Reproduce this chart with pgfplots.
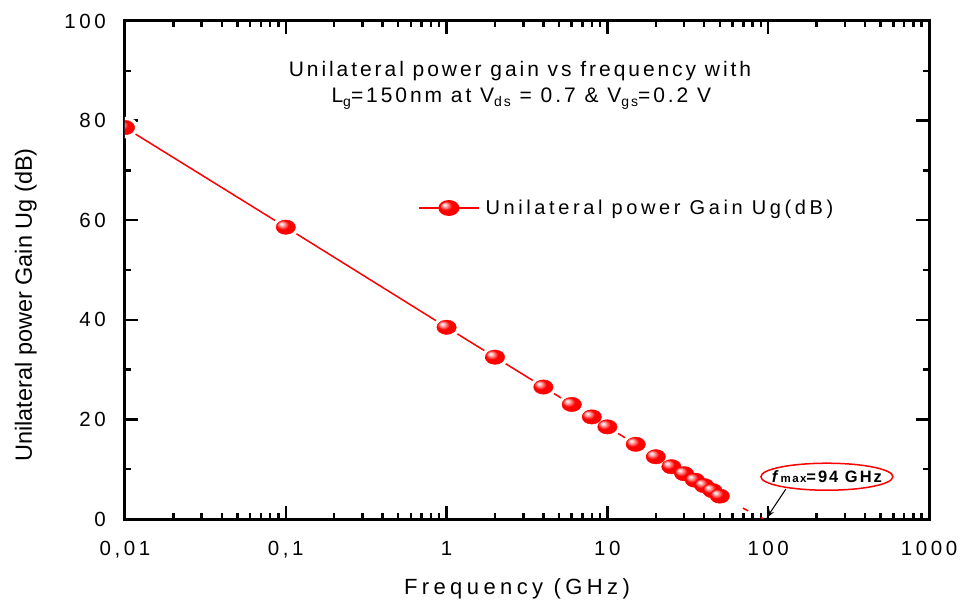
\documentclass[border=0pt]{standalone}
\usepackage{fontspec}
\setmainfont{Liberation Sans}
\newfontfamily\tkfont{Liberation Sans}[LetterSpace=17.5]
\newfontfamily\ttlfont{Liberation Sans}[LetterSpace=14]
\newfontfamily\lgfont{Liberation Sans}[LetterSpace=18]
\newfontfamily\xlfont{Liberation Sans}[LetterSpace=20]
\newfontfamily\fmfont{Liberation Sans}[LetterSpace=12]
\usepackage{pgfplots}
\usepackage{pgfplotstable}
\pgfplotsset{compat=1.18}
\usetikzlibrary{arrows.meta}

% brighter ball shading: red body, small white highlight
\makeatletter
\pgfdeclareradialshading[tikz@ball]{ball}{\pgfqpoint{-12bp}{12bp}}{%
  color(0bp)=(tikz@ball!0!white); color(5bp)=(tikz@ball!25!white);
  color(16bp)=(tikz@ball); color(42bp)=(tikz@ball); color(50bp)=(tikz@ball!85!black)}
\makeatother

% frequency (GHz) vs unilateral power gain (dB)
\pgfplotstableread{
f    ug
0.01 78.6
0.1  58.6
1    38.5
2    32.5
4    26.5
6    23.0
8    20.5
10   18.5
15   15.0
20   12.5
25   10.5
30   9.1
35   7.8
40   6.7
45   5.7
50   4.6
}\ugdata

\newcommand\sub[1]{\raisebox{-4pt}{\fontsize{14}{14}\selectfont #1}}

\begin{document}
\begin{tikzpicture}
\begin{axis}[
  scale only axis, width=804pt, height=498pt,
  xmode=log, xmin=0.01, xmax=1000, ymin=0, ymax=100,
  xtick={0.01,0.1,1,10,100,1000},
  xticklabels={{0,01},{0,1},1,10,100,1000},
  minor xtick={0.02,0.03,0.04,0.05,0.06,0.07,0.08,0.09,
               0.2,0.3,0.4,0.5,0.6,0.7,0.8,0.9,
               2,3,4,5,6,7,8,9,20,30,40,50,60,70,80,90,
               200,300,400,500,600,700,800,900},
  ytick={0,20,40,60,80,100},
  yticklabels={0,20,40,60,80,100},
  minor ytick={10,30,50,70,90},
  tick align=inside,
  major tick length=13pt, minor tick length=6pt,
  tick style={black, line width=2.5pt},
  axis line style={line width=3pt},
  xticklabel style={font=\tkfont\fontsize{20.5}{24}\selectfont, anchor=north, inner sep=0pt, yshift=-22pt},
  yticklabel style={font=\tkfont\fontsize{20.5}{24}\selectfont, anchor=east, inner sep=0pt, xshift=-19pt},
  xlabel={Frequency (GHz)},
  xlabel style={font=\xlfont\fontsize{22}{26}\selectfont, at={(axis description cs:0.4876,-0.1506)}, anchor=base, inner sep=0pt},
  ylabel={Unilateral power Gain Ug (dB)},
  ylabel style={font=\fontsize{23.5}{28}\selectfont, at={(axis description cs:-0.1157,0.4297)}, anchor=base, inner sep=0pt},
  clip marker paths=true,
  legend style={draw=none, fill=none, at={(axis description cs:0.3644,0.6245)}, anchor=west, inner sep=0pt,
    font=\lgfont\fontsize{20}{24}\selectfont},
  legend image code/.code={\draw[mark repeat=2,mark phase=2,#1] plot coordinates {(0pt,0pt)(30pt,0pt)(60pt,0pt)};},
]
\coordinate (O) at (axis description cs:0,0);

\addplot[red, line width=1.5pt, forget plot] table[x=f, y=ug] {\ugdata};
\addplot[red, line width=1.5pt, dash pattern=on 0pt off 26pt on 6pt off 14pt on 3pt off 30pt, forget plot]
  coordinates {(50,4.6) (94,0)};
\addplot[white, only marks, mark=*, mark size=10.5pt, mark options={xscale=1.27, fill=white, draw=white}, forget plot]
  table[x=f, y=ug] {\ugdata};
\addplot[red, only marks, mark=ball, mark size=7.2pt, mark options={ball color=red, xscale=1.35}, forget plot]
  table[x=f, y=ug] {\ugdata};

\addlegendimage{red, line width=1.5pt, mark=ball, mark size=7.2pt, mark options={ball color=red, xscale=1.35}}
\addlegendentry{\hspace{4pt}Unilateral power Gain Ug(dB)}

\node[anchor=base, font=\ttlfont\fontsize{21}{26}\selectfont] at (axis description cs:0.4913,0.888)
  {Unilateral power gain vs frequency with};
\node[anchor=base, font=\ttlfont\fontsize{21}{26}\selectfont] at (axis description cs:0.493,0.836)
  {L\sub{g}=150nm at V\sub{ds} = 0.7 \& V\sub{gs}=0.2 V};

\draw[red, line width=1.5pt] (axis description cs:0.873,0.0849) ellipse [x radius=66pt, y radius=13.5pt];
\node[font=\fmfont\bfseries\fontsize{16.5}{18}\selectfont] at (axis description cs:0.873,0.0849)
  {\textit{f}{\fontsize{11.5}{12}\selectfont max}=94 GHz};
\draw[-{Stealth[length=9pt,width=6pt]}, line width=1pt] (axis description cs:0.822,0.0602) -- (axis description cs:0.798,0.002);
\end{axis}
\pgfresetboundingbox
\path (O) ++(-125pt,-86pt) rectangle ++(964pt,605pt);
\end{tikzpicture}
\end{document}
